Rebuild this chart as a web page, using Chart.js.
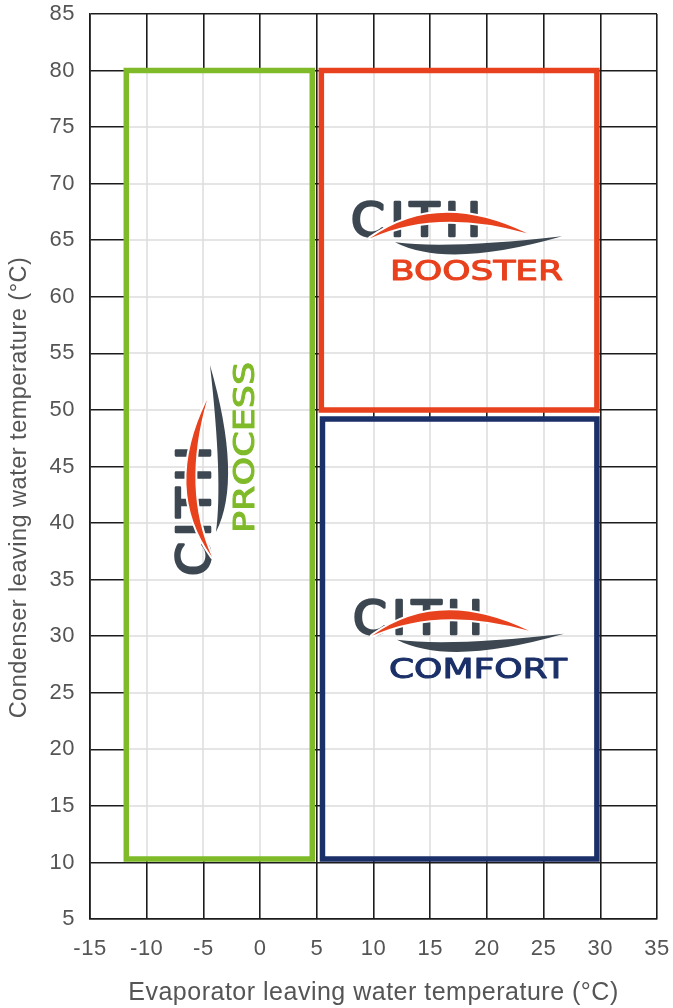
<!DOCTYPE html>
<html><head><meta charset="utf-8">
<script src="https://cdn.jsdelivr.net/npm/chart.js@4.4.1/dist/chart.umd.min.js"></script>
<style>html,body{margin:0;padding:0;background:#fff;}#wrap{width:673px;height:1008px;}</style>
</head><body><div id="wrap"><canvas id="c" width="673" height="1008"></canvas></div>
<script>
// ---- data ----
const xTicks = [-15, -10, -5, 0, 5, 10, 15, 20, 25, 30, 35];
const yTicks = [5, 10, 15, 20, 25, 30, 35, 40, 45, 50, 55, 60, 65, 70, 75, 80, 85];
const seriesNames = ['CITH PROCESS', 'CITH BOOSTER', 'CITH COMFORT'];
const processX = [-11.8, 4.6];
const processY = [10.3, 80];
const boosterX = [5.4, 29.7];
const boosterY = [50, 80];
const comfortX = [5.5, 29.7];
const comfortY = [10.3, 49.2];
const xTitle = 'Evaporator leaving water temperature (°C)';
const yTitle = 'Condenser leaving water temperature (°C)';

// ---- styles / positions ----
const colors = ['#7fba28', '#e8411d', '#1b3068'];
const logoDark = '#3c4751';
const logos = [
  { name: 'PROCESS', x: -7.42, y: 35.24, rotate: true, color: colors[0], lx: 44, lw: 171, fs: 29 },
  { name: 'BOOSTER', x: 7.93, y: 68.36, rotate: false, color: colors[1], lx: 40, lw: 173, fs: 27 },
  { name: 'COMFORT', x: 8.10, y: 33.21, rotate: false, color: colors[2], lx: 37, lw: 178, fs: 27 }
];
const yTitleFont = { family: '"Liberation Sans", Arial, sans-serif', size: 23.5 };

function rectPoints(xs, ys) {
  return [
    { x: xs[0], y: ys[0] }, { x: xs[1], y: ys[0] }, { x: xs[1], y: ys[1] },
    { x: xs[0], y: ys[1] }, { x: xs[0], y: ys[0] }
  ];
}

const spacing = {
  id: 'spacing',
  beforeLayout(chart) { chart.ctx.letterSpacing = '0.5px'; },
  beforeDraw(chart) { chart.ctx.letterSpacing = '0.5px'; }
};

const interiorGrid = {
  id: 'interiorGrid',
  beforeDatasetsDraw(chart) {
    const { ctx, scales: { x, y } } = chart;
    ctx.save();
    chart.data.datasets.forEach(ds => {
      const xs = ds.data.map(p => p.x), ys = ds.data.map(p => p.y);
      const x0 = x.getPixelForValue(Math.min(...xs)), x1 = x.getPixelForValue(Math.max(...xs));
      const y0 = y.getPixelForValue(Math.max(...ys)), y1 = y.getPixelForValue(Math.min(...ys));
      ctx.fillStyle = '#ffffff';
      ctx.fillRect(x0, y0, x1 - x0, y1 - y0);
      ctx.strokeStyle = '#dddddd';
      ctx.lineWidth = 1.5;
      ctx.beginPath();
      x.ticks.forEach(t => {
        const px = Math.round(x.getPixelForValue(t.value));
        if (px > x0 && px < x1) { ctx.moveTo(px, y0); ctx.lineTo(px, y1); }
      });
      y.ticks.forEach(t => {
        const py = Math.round(y.getPixelForValue(t.value));
        if (py > y0 && py < y1) { ctx.moveTo(x0, py); ctx.lineTo(x1, py); }
      });
      ctx.stroke();
    });
    ctx.restore();
  }
};

function crescent(ctx, p0, c, p2, t) {
  ctx.beginPath();
  ctx.moveTo(p0[0], p0[1]);
  ctx.quadraticCurveTo(c[0], c[1] - t, p2[0], p2[1]);
  ctx.quadraticCurveTo(c[0], c[1] + t, p0[0], p0[1]);
  ctx.closePath();
}

function drawLogo(ctx, ox, oy, L) {
  ctx.save();
  ctx.translate(ox, oy);
  if (L.rotate) ctx.rotate(-Math.PI / 2);
  // CITH
  ctx.font = '46px "DejaVu Sans"';
  ctx.textBaseline = 'alphabetic';
  ctx.textAlign = 'left';
  ctx.letterSpacing = '5px';
  const w = ctx.measureText('CITH').width - 5;
  ctx.save();
  ctx.scale(130 / w, 1);
  ctx.fillStyle = logoDark;
  ctx.strokeStyle = logoDark;
  ctx.lineWidth = 2.6;
  ctx.lineJoin = 'round';
  ctx.fillText('CITH', 1, 34);
  ctx.strokeText('CITH', 1, 34);
  ctx.restore();
  ctx.letterSpacing = '0px';
  // dark swoosh
  crescent(ctx, [45, 40], [97.5, 57], [212, 34], 10);
  ctx.fillStyle = logoDark;
  ctx.fill();
  // orange arc with white halo
  crescent(ctx, [20, 36], [87.5, -3.5], [177, 31], 9);
  ctx.strokeStyle = '#ffffff';
  ctx.lineWidth = 4;
  ctx.lineJoin = 'round';
  ctx.stroke();
  ctx.fillStyle = colors[1];
  ctx.fill();
  // label
  ctx.font = L.fs + 'px "DejaVu Sans"';
  const lw = ctx.measureText(L.name).width;
  ctx.save();
  ctx.translate(L.lx, 78);
  ctx.scale(L.lw / lw, 1);
  ctx.fillStyle = L.color;
  ctx.strokeStyle = L.color;
  ctx.lineWidth = 1;
  ctx.fillText(L.name, 0, 0);
  ctx.strokeText(L.name, 0, 0);
  ctx.restore();
  ctx.restore();
}

const logoPlugin = {
  id: 'logoPlugin',
  afterDatasetsDraw(chart) {
    const { ctx, scales: { x, y } } = chart;
    logos.forEach(L => drawLogo(ctx, x.getPixelForValue(L.x), y.getPixelForValue(L.y), L));
  },
  afterDraw(chart) {
    // y-axis title (placed slightly below the plot centre, as in the reference)
    const { ctx, chartArea } = chart;
    ctx.save();
    ctx.letterSpacing = '0.5px';
    ctx.translate(20, (chartArea.top + chartArea.bottom) / 2 + 21);
    ctx.rotate(-Math.PI / 2);
    ctx.font = yTitleFont.size + 'px ' + yTitleFont.family;
    ctx.fillStyle = '#555555';
    ctx.textAlign = 'center';
    ctx.textBaseline = 'middle';
    ctx.fillText(yTitle, 0, 0);
    ctx.restore();
  }
};

const datasets = [
  { label: seriesNames[0], data: rectPoints(processX, processY), borderColor: colors[0] },
  { label: seriesNames[1], data: rectPoints(boosterX, boosterY), borderColor: colors[1] },
  { label: seriesNames[2], data: rectPoints(comfortX, comfortY), borderColor: colors[2] }
].map(d => Object.assign(d, {
  showLine: true, fill: false, pointRadius: 0, borderWidth: 5.5, tension: 0,
  borderJoinStyle: 'miter', borderCapStyle: 'square'
}));

const tickFont = { family: '"Liberation Sans", Arial, sans-serif', size: 22 };
const gridCol = '#1c1c1c';

new Chart(document.getElementById('c'), {
  type: 'scatter',
  data: { datasets },
  plugins: [spacing, interiorGrid, logoPlugin],
  options: {
    responsive: false,
    animation: false,
    devicePixelRatio: 1,
    layout: { padding: { top: 14, right: 16, left: 0, bottom: 0 } },
    plugins: { legend: { display: false }, tooltip: { enabled: false } },
    scales: {
      x: {
        type: 'linear', min: -15, max: 35,
        afterBuildTicks: s => { s.ticks = xTicks.map(v => ({ value: v })); },
        afterFit: s => { s.height = 89; s.paddingLeft = 0; s.paddingRight = 0; },
        grid: { color: gridCol, lineWidth: 1.6, drawTicks: false },
        border: { color: gridCol, width: 1.6 },
        ticks: { font: tickFont, color: '#555555', padding: 17, maxRotation: 0, autoSkip: false },
        title: { display: true, text: xTitle, color: '#555555',
          font: { family: '"Liberation Sans", Arial, sans-serif', size: 25 }, padding: { top: 0, bottom: 0 } }
      },
      y: {
        type: 'linear', min: 5, max: 85,
        afterBuildTicks: s => { s.ticks = yTicks.map(v => ({ value: v })); },
        afterFit: s => { s.width = 90; s.paddingTop = 0; s.paddingBottom = 0; },
        grid: { color: gridCol, lineWidth: 1.6, drawTicks: false },
        border: { color: gridCol, width: 1.6 },
        ticks: { font: tickFont, color: '#555555', padding: 15, autoSkip: false },
        title: { display: false, text: yTitle }
      }
    }
  }
});
</script>
</body></html>
